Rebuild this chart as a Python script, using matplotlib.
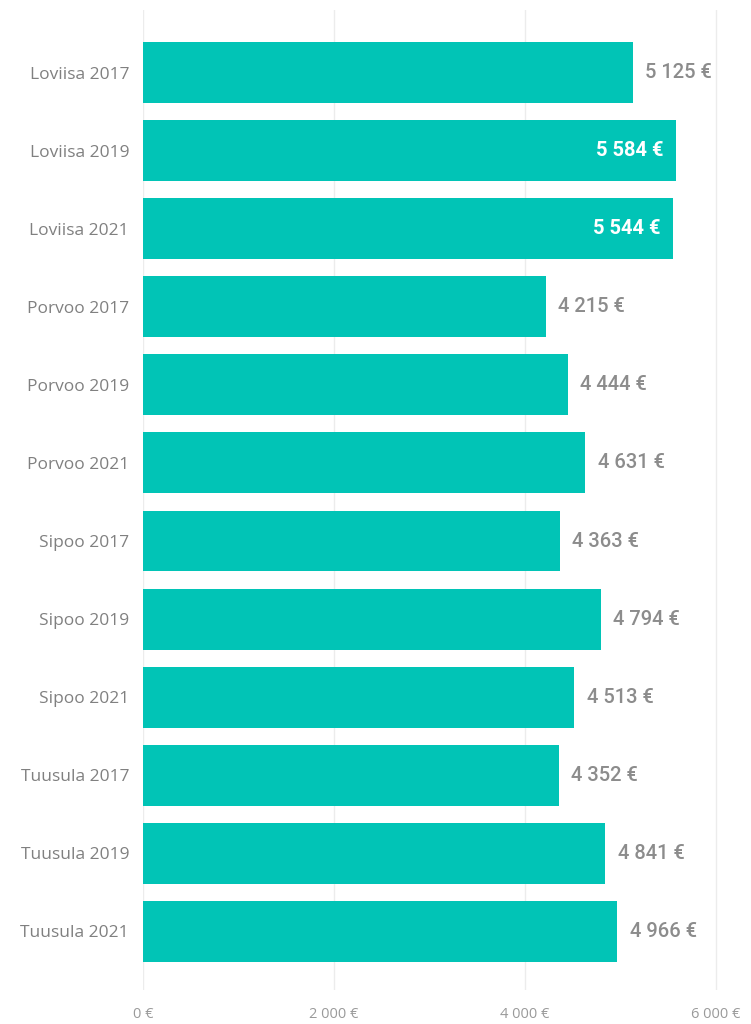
import matplotlib.pyplot as plt
import numpy as np

categories = ['Loviisa 2017', 'Loviisa 2019', 'Loviisa 2021',
              'Porvoo 2017', 'Porvoo 2019', 'Porvoo 2021',
              'Sipoo 2017', 'Sipoo 2019', 'Sipoo 2021',
              'Tuusula 2017', 'Tuusula 2019', 'Tuusula 2021']
values = [5125, 5584, 5544, 4215, 4444, 4631, 4363, 4794, 4513, 4352, 4841, 4966]
x_ticks = [0, 2000, 4000, 6000]


def fmt_eur(v):
    return f'{v:,}'.replace(',', ' ') + ' €'


fig = plt.figure(figsize=(7.51, 10.24), dpi=100)
ax = fig.add_axes([0.1904, 0.0332, 0.795, 0.957])

y = np.arange(len(categories))
ax.barh(y, values, height=0.78, color='#01C4B6', zorder=2)

for yi, v in zip(y, values):
    label = fmt_eur(v)
    if v > 5400:
        ax.annotate(label, (v, yi), xytext=(-9, 0), textcoords='offset points',
                    ha='right', va='center', color='white', fontsize=14.5,
                    fontweight='bold', family='Roboto', zorder=3)
    else:
        ax.annotate(label, (v, yi), xytext=(9, 0), textcoords='offset points',
                    ha='left', va='center', color='#8c8c8c', fontsize=14.5,
                    fontweight='medium', family='Roboto', zorder=3)

ax.set_xlim(0, 6250)
ax.set_ylim(11.75, -0.8)
ax.set_yticks(y)
ax.set_yticklabels(categories, family='Open Sans', fontsize=12.5, color='#808080')
ax.set_xticks(x_ticks)
ax.set_xticklabels([fmt_eur(t) for t in x_ticks], family='Open Sans',
                   fontsize=10.5, color='#9a9a9a')
ax.tick_params(axis='both', length=0)
ax.tick_params(axis='y', pad=10)
ax.tick_params(axis='x', pad=12)
ax.grid(axis='x', color='#ececec', linewidth=1, zorder=0)
for s in ax.spines.values():
    s.set_visible(False)

fig.savefig('out.png', dpi=100)
